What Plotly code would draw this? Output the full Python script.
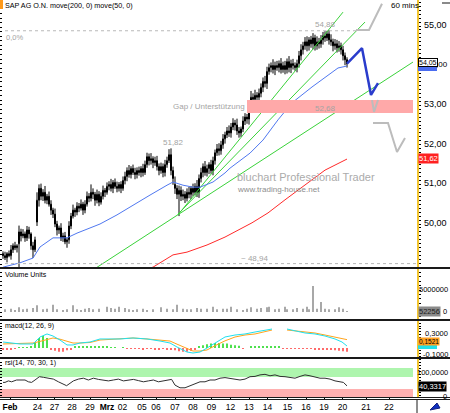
import plotly.graph_objects as go

W, H = 450, 413
FONT = "Liberation Sans, Arial, sans-serif"

# ---------------- price data (60-min bars) ----------------
closes = [
    49.20, 49.15, 49.25, 49.20, 49.35, 49.45, 49.40, 49.45, 49.80, 49.70,
    49.75, 49.65, 49.85, 49.75, 49.45, 49.35, 49.60, 50.60, 50.90, 50.70,
    50.80, 50.60, 50.70, 50.50, 50.35, 50.25, 50.00, 49.85, 49.90, 49.65,
    49.70, 49.55, 49.60, 49.95, 50.20, 50.35, 50.30, 50.45, 50.40, 50.50,
    50.35, 50.50, 50.70, 50.65, 50.80, 50.75, 50.60, 50.75, 50.55, 50.70,
    50.85, 50.80, 50.95, 51.00, 50.90, 51.05, 50.95, 50.90, 51.00, 50.90,
    51.10, 51.20, 51.35, 51.25, 51.40, 51.30, 51.25, 51.35, 51.30, 51.40,
    51.30, 51.50, 51.70, 51.60, 51.65, 51.55, 51.60, 51.45, 51.35, 51.45,
    51.30, 51.50, 51.60, 51.75, 51.35, 51.15, 50.90, 50.75, 50.85, 50.70,
    50.75, 50.65, 50.80, 50.75, 50.90, 50.80, 50.95, 50.80, 51.15, 51.30,
    51.45, 51.30, 51.40, 51.50, 51.35, 51.60, 51.80, 51.90, 51.85, 52.00,
    52.15, 52.25, 52.35, 52.30, 52.45, 52.55, 52.50, 52.35, 52.30, 52.40,
    52.60, 52.70, 52.65, 52.80, 53.20, 53.15, 53.25, 53.20, 53.30, 53.45,
    53.60, 53.55, 53.85, 53.95, 54.00, 53.90, 54.00, 53.95, 54.05, 53.90,
    54.00, 53.90, 54.10, 53.95, 54.05, 54.00, 53.95, 54.05, 54.25, 54.40,
    54.50, 54.60, 54.50, 54.65, 54.55, 54.70, 54.50, 54.60, 54.55, 54.65,
    54.75, 54.70, 54.80, 54.65, 54.60, 54.50, 54.55, 54.45, 54.50, 54.40,
    54.25, 54.15, 54.05,
]
first_open = 49.25
gap_opens = {8: 49.50, 17: 50.05, 86: 51.00, 124: 53.13}
# wick lengths above / below the body, in units of WICK_UNIT (EUR)
WICK_UNIT = 0.02
up_wick = [
    3, 5, 2, 4, 6, 3, 5, 2, 8, 4,   6, 3, 5, 4, 2, 5, 4, 10, 5, 6,
    4, 8, 3, 6, 5, 3, 7, 4, 3, 6,   4, 5, 3, 6, 4, 7, 3, 5, 4, 6,
    3, 5, 6, 4, 8, 5, 3, 6, 4, 5,   6, 3, 5, 4, 7, 3, 5, 6, 3, 4,
    5, 6, 4, 7, 3, 5, 6, 4, 5, 3,   6, 5, 5, 4, 7, 3, 5, 6, 4, 5,
    4, 6, 5, 7, 8, 5, 10, 4, 6, 5,  6, 4, 5, 7, 3, 6, 4, 8, 5, 6,
    4, 7, 5, 3, 6, 5, 4, 6, 7, 5,   6, 4, 5, 7, 5, 6, 4, 8, 5, 3,
    6, 5, 4, 5, 8, 5, 7, 4, 6, 5,   5, 7, 6, 5, 4, 8, 5, 6, 4, 7,
    5, 6, 4, 7, 5, 6, 4, 5, 6, 7,   5, 6, 7, 3, 5, 6, 4, 7, 5, 6,
    5, 6, 3, 5, 7, 4, 6, 5, 6, 4,   5, 4, 3,
]
down_wick = [
    4, 3, 6, 2, 5, 4, 3, 6, 5, 7,   3, 5, 4, 6, 5, 6, 3, 5, 8, 5,
    6, 4, 5, 3, 6, 5, 4, 7, 5, 4,   5, 3, 6, 5, 4, 3, 6, 4, 5, 3,
    6, 4, 3, 5, 4, 6, 7, 4, 5, 3,   4, 6, 3, 5, 4, 6, 3, 5, 4, 6,
    3, 5, 6, 4, 5, 3, 6, 5, 4, 6,   5, 3, 4, 6, 5, 7, 4, 5, 6, 4,
    6, 5, 4, 3, 6, 8, 7, 6, 5, 6,   5, 6, 4, 5, 6, 5, 4, 6, 7, 5,
    6, 4, 5, 7, 4, 6, 5, 4, 6, 5,   5, 6, 4, 5, 6, 4, 7, 5, 6, 5,
    4, 5, 6, 7, 1, 6, 4, 5, 6, 5,   6, 5, 7, 4, 6, 5, 7, 4, 6, 5,
    4, 6, 5, 6, 7, 5, 4, 6, 5, 6,   6, 5, 7, 6, 5, 7, 6, 5, 6, 5,
    6, 5, 4, 6, 5, 7, 5, 6, 5, 6,   6, 7, 5,
]
wick_highs = {12: 49.90, 18: 51.00, 44: 51.00, 72: 51.75, 83: 51.85, 153: 54.72, 162: 54.88}
wick_lows = {8: 48.90, 15: 49.14, 32: 49.40, 88: 50.20, 124: 53.10}

# moving averages (bar index, value)
ma50_x = [0, 8.5, 15, 18.5, 25, 32, 37, 48.5, 57, 65, 73.5, 82, 85, 90, 95, 98.5,
          105, 111, 113.5, 123.5, 130, 137.5, 144.5, 154.5, 161, 167.5, 172]
ma50_y = [48.91, 49.02, 49.14, 49.42, 49.65, 49.65, 49.77, 50.00, 50.23, 50.48, 50.73,
          50.98, 51.06, 50.98, 50.93, 50.93, 51.06, 51.29, 51.41, 51.79, 52.12, 52.63,
          53.06, 53.46, 53.71, 53.94, 53.99]
ma200_x = [73.5, 75, 85, 92, 102, 111, 124.5, 132.5, 141, 151, 161, 172]
ma200_y = [48.89, 48.91, 49.22, 49.29, 49.47, 49.67, 50.03, 50.28, 50.61, 50.98, 51.36, 51.64]

# trend lines (two points each)
trend_a_x, trend_a_y = [46.5, 205], [48.89, 54.09]
trend_b_x, trend_b_y = [87.5, 170], [50.23, 55.35]
trend_c_x, trend_c_y = [87.5, 181], [50.25, 55.10]

# projection and arrows (drawn marks in data space)
proj_x, proj_y = [172, 179.5, 184, 187.5], [54.05, 54.44, 53.26, 53.56]
arrow_up_x, arrow_up_y = [176.5, 183, 189.5], [54.90, 54.90, 55.56]
arrow_v_x, arrow_v_y = [184.5, 185.5, 187.5], [53.13, 52.83, 53.13]
arrow_dn_x, arrow_dn_y = [185, 192.5, 197, 201], [52.55, 52.55, 51.82, 52.17]

gap_low, gap_high = 52.80, 53.13
gap_x0, gap_x1 = 122, 205
high_level, high_x = 54.88, [1, 176.5]
low_level, low_x = 49.00, [1, 207]

# volume (bar index, shares)
vol_x = [1, 4, 6, 8, 10, 12, 15, 17, 20, 22, 25, 27, 30, 32, 35, 37, 39, 41, 43, 45,
         48, 52, 54, 56, 58, 61, 63, 65, 67, 70, 72, 75, 79, 82, 85, 87, 90, 92, 94, 97,
         99, 102, 105, 107, 110, 112, 114, 117, 120, 122, 124, 127, 129, 132, 133, 136,
         138, 141, 142, 145, 147, 150, 152, 153, 155, 157, 159, 161, 163, 166, 168, 170, 172]
vol_v = [600000, 760000, 450000, 1060000, 600000, 760000, 900000, 1520000, 600000, 760000,
         1670000, 600000, 450000, 600000, 1520000, 600000, 450000, 760000, 900000, 600000,
         760000, 1210000, 900000, 760000, 1210000, 900000, 600000, 450000, 600000, 760000,
         450000, 600000, 1060000, 760000, 600000, 1670000, 760000, 600000, 600000, 900000,
         760000, 760000, 1210000, 600000, 760000, 760000, 1210000, 600000, 450000, 760000,
         1060000, 760000, 900000, 1060000, 1210000, 600000, 760000, 1210000, 600000, 600000,
         900000, 760000, 1210000, 600000, 5900000, 760000, 2270000, 760000, 600000, 600000,
         1060000, 760000, 52256]

# MACD (bar index, macd, signal); None = not visible
macd_x = [0, 3.5, 8.5, 15, 18.5, 22, 25, 28.5, 32, 35, 38.5, 43.5, 48.5, 53.5, 58.5, 65,
          72, 78.5, 83.5, 87, 92, 95, 98.5, 102, 107, 111, 116, 121, 126, 131, 134.5, 138,
          142, 146, 151, 156, 161, 166, 169.5, 172]
macd_v = [0.109, 0.091, 0.073, 0.073, 0.200, 0.255, 0.218, 0.145, 0.055, 0.055, 0.091,
          0.109, 0.164, 0.164, 0.164, 0.182, 0.164, 0.127, 0.091, 0.018, -0.073, -0.091,
          -0.073, 0.000, 0.109, 0.200, 0.236, 0.255, 0.291, 0.327, 0.345, None,
          0.345, 0.309, 0.273, 0.255, 0.218, 0.164, 0.109, 0.036]
signal_v = [0.073, 0.080, 0.091, 0.091, 0.120, 0.160, 0.182, 0.160, 0.120, 0.091, 0.091,
            0.100, 0.145, 0.160, 0.164, 0.182, 0.164, 0.145, 0.127, 0.070, 0.000, -0.055,
            -0.055, -0.036, 0.060, 0.130, 0.200, 0.236, 0.255, 0.291, 0.327, None,
            0.327, 0.309, 0.291, 0.273, 0.236, 0.200, 0.164, 0.152]
hist_x = list(range(0, 173, 2))
hist_v = [-0.02, -0.02, -0.02, -0.01, 0.01, 0.01, 0.01, 0.02, 0.09, 0.18, 0.22, 0.18,
          -0.02, -0.05, -0.07, -0.07, -0.04, -0.02,
          0.02, 0.03, 0.03, 0.02, 0.02, 0.02, 0.02, 0.02, 0.02, 0.01,
          0.01, 0.0, 0.01, -0.01, -0.01,
          -0.01, -0.01, -0.02, -0.01, -0.01, -0.02, -0.02, -0.01, -0.02, -0.02,
          -0.04, -0.06, -0.07, -0.07, -0.05, -0.03,
          0.03, 0.05, 0.07, 0.08, 0.09, 0.09, 0.08,
          0.08, 0.06, 0.05, 0.04, -0.01, 0.0,
          0.02, 0.02, 0.02, 0.02, 0.02, 0.02, 0.02, 0.02,
          -0.01, -0.01, -0.01, -0.01, -0.01, -0.01, -0.015, -0.015, -0.02, -0.02,
          -0.025, -0.03, -0.03, -0.04, -0.05, -0.06, -0.07]

# RSI (bar index, value)
rsi_x = [0, 1, 2.7, 4.3, 6.8, 8.5, 11, 12.7, 14.3, 16, 18.2, 20.2, 22.7, 25.2, 27.7, 30.2,
         31.8, 33.5, 35.2, 37.7, 40.2, 42.7, 45.2, 47.7, 50.2, 52.7, 55.2, 57.7, 60.2, 62.7,
         65.2, 67.7, 70.2, 72.7, 75.2, 77.7, 80.2, 82.7, 84.3, 86, 88.5, 91, 93.5, 96, 98.5,
         101, 103.5, 106, 108.5, 111, 113.5, 116, 118.5, 121, 123.5, 126, 128.5, 131, 133.5,
         136, 138.5, 141, 143.5, 146, 148.5, 151, 153.5, 156, 158.5, 161, 163.5, 166, 168.5,
         170.2, 172]
rsi_v = [52, 52, 57, 54, 60, 61, 60, 54, 52, 60, 71, 69, 66, 63, 54, 46,
         41, 49, 57, 63, 66, 60, 66, 62, 60, 57, 60, 63, 57, 60,
         62, 58, 54, 57, 60, 54, 57, 60, 62, 43, 34, 34, 41, 46, 54,
         54, 60, 60, 66, 68, 66, 63, 60, 63, 71, 72, 77, 79, 74,
         77, 72, 71, 69, 66, 72, 77, 74, 71, 66, 66, 63, 57, 54,
         52, 40.33]
rsi_upper, rsi_lower = 70, 30

# x-axis day labels (bar index of each session start)
day_pos = [3.5, 17.25, 25.75, 34.5, 43.5, 52, 59.75, 69.5, 76.5, 86, 95, 104.25,
           113.75, 123, 132.25, 142.25, 151.5, 160.5, 169.75, 181.5, 193]
day_text = ["<b>Feb</b>", "24", "27", "28", "29", "<b>Mrz</b>", "02", "05", "06", "07", "08",
            "09", "12", "13", "14", "15", "16", "19", "20", "21", "22"]

price_ticks = [55, 54, 53, 52, 51, 50]

# ---------------- derived OHLC ----------------
opens = [first_open] + closes[:-1]
for k, v in gap_opens.items():
    opens[k] = v
highs = [max(o, c) + u * WICK_UNIT for o, c, u in zip(opens, closes, up_wick)]
lows = [min(o, c) - d * WICK_UNIT for o, c, d in zip(opens, closes, down_wick)]
for k, v in wick_highs.items():
    highs[k] = max(highs[k], v)
for k, v in wick_lows.items():
    lows[k] = min(lows[k], v)
bars = list(range(len(closes)))


def X(px):
    return px / W


def Y(py):
    return 1 - py / H


XR = 417 / W
XRANGE = [-1.5, 207]
YELLOW = "#f3c530"

fig = go.Figure()

# trend lines
for tx, ty in [(trend_a_x, trend_a_y), (trend_b_x, trend_b_y), (trend_c_x, trend_c_y)]:
    fig.add_trace(go.Scatter(x=tx, y=ty, mode="lines", line=dict(color="#3ad23a", width=1),
                             xaxis="x", yaxis="y", hoverinfo="skip"))
fig.add_trace(go.Scatter(x=ma200_x, y=ma200_y, mode="lines", line=dict(color="#ff2a2a", width=1),
                         xaxis="x", yaxis="y"))
fig.add_trace(go.Scatter(x=ma50_x, y=ma50_y, mode="lines", line=dict(color="#5078f0", width=1),
                         xaxis="x", yaxis="y"))
fig.add_trace(go.Scatter(x=high_x, y=[high_level, high_level], mode="lines",
                         line=dict(color="#b8b8b8", width=1, dash="dot"), xaxis="x", yaxis="y"))
fig.add_trace(go.Scatter(x=low_x, y=[low_level, low_level], mode="lines",
                         line=dict(color="#b8b8b8", width=1, dash="dot"), xaxis="x", yaxis="y"))
# gap band
fig.add_trace(go.Scatter(x=[gap_x0, gap_x1, gap_x1, gap_x0, gap_x0],
                         y=[gap_low, gap_low, gap_high, gap_high, gap_low],
                         mode="lines", fill="toself", fillcolor="#ffa9a9",
                         line=dict(width=0, color="#ffa9a9"), xaxis="x", yaxis="y"))
# candles
fig.add_trace(go.Candlestick(
    x=bars, open=opens, high=highs, low=lows, close=closes,
    increasing=dict(line=dict(color="#000000", width=1), fillcolor="#d8d8d8"),
    decreasing=dict(line=dict(color="#000000", width=1), fillcolor="#000000"),
    whiskerwidth=0, xaxis="x", yaxis="y"))
# projection + arrows
fig.add_trace(go.Scatter(x=proj_x, y=proj_y, mode="lines", line=dict(color="#2a3ccc", width=2.5),
                         xaxis="x", yaxis="y"))
for ax_, ay_ in [(arrow_up_x, arrow_up_y), (arrow_v_x, arrow_v_y), (arrow_dn_x, arrow_dn_y)]:
    fig.add_trace(go.Scatter(x=ax_, y=ay_, mode="lines", line=dict(color="#bcbcbc", width=2),
                             xaxis="x", yaxis="y"))

# volume
fig.add_trace(go.Bar(x=vol_x, y=vol_v, width=0.5, marker=dict(color="#a8a8a8", line=dict(width=0)),
                     xaxis="x2", yaxis="y2"))
# macd
fig.add_trace(go.Bar(x=hist_x, y=hist_v, width=1.0,
                     marker=dict(color=["#4ee04e" if v >= 0 else "#ff6a6a" for v in hist_v],
                                 line=dict(width=0)),
                     xaxis="x3", yaxis="y3"))
fig.add_trace(go.Scatter(x=macd_x, y=signal_v, mode="lines", line=dict(color="#ffa41c", width=1),
                         xaxis="x3", yaxis="y3", connectgaps=False))
fig.add_trace(go.Scatter(x=macd_x, y=macd_v, mode="lines", line=dict(color="#20e0ee", width=1),
                         xaxis="x3", yaxis="y3", connectgaps=False))
# rsi
fig.add_trace(go.Scatter(x=rsi_x, y=rsi_v, mode="lines", line=dict(color="#303030", width=1),
                         xaxis="x4", yaxis="y4"))
# dummy traces for left tick axes
for ya, xa in [("y5", "x"), ("y6", "x2"), ("y7", "x3"), ("y8", "x4")]:
    fig.add_trace(go.Scatter(x=[None], y=[None], xaxis=xa, yaxis=ya, mode="lines"))

domains = {
    1: [Y(267), Y(0)],
    2: [Y(319), Y(269)],
    3: [Y(357), Y(321)],
    4: [Y(397), Y(359)],
}
ranges = {
    1: [55 - (267 - 26) / 39.6, 55 + 26 / 39.6],
    2: [(312 - 319) / 4.4 * 1e6, (312 - 269) / 4.4 * 1e6],
    3: [(348 - 357) / 55, (348 - 321) / 55],
    4: [(398 - 397) / 0.3, (398 - 359) / 0.3],
}
dticks = {1: 0.1, 2: 1e6, 3: 0.05, 4: 10}

layout = dict(
    width=W, height=H, margin=dict(l=0, r=0, t=0, b=0),
    paper_bgcolor="white", plot_bgcolor="white", showlegend=False,
    font=dict(family=FONT, size=8, color="#000"),
    hovermode=False,
)
for k in range(1, 5):
    xn = "xaxis" if k == 1 else f"xaxis{k}"
    yn = "yaxis" if k == 1 else f"yaxis{k}"
    xa = dict(domain=[0, XR], range=XRANGE, anchor="y" if k == 1 else f"y{k}",
              showgrid=False, zeroline=False, showline=False, showticklabels=False, ticks="")
    if k > 1:
        xa["matches"] = "x"
    if k == 1:
        xa["rangeslider"] = dict(visible=False)
    if k == 4:
        xa.update(showticklabels=True, tickvals=day_pos, ticktext=day_text, ticks="outside",
                  ticklen=2, tickcolor="#000", tickfont=dict(size=8.5, color="#000", family=FONT))
    layout[xn] = xa
    layout[yn] = dict(domain=domains[k], range=ranges[k], side="right",
                      anchor="x" if k == 1 else f"x{k}",
                      showline=True, linecolor=YELLOW, linewidth=1.5, showgrid=False, zeroline=False,
                      ticks="outside", ticklen=2, tickcolor="#000", dtick=dticks[k], tick0=0,
                      showticklabels=False)
    # left tick overlay
    layout[f"yaxis{k + 4}"] = dict(overlaying="y" if k == 1 else f"y{k}", side="left",
                                   anchor="x" if k == 1 else f"x{k}",
                                   range=ranges[k], showline=False, showgrid=False, zeroline=False,
                                   ticks="inside", ticklen=2, tickcolor="#000",
                                   dtick=dticks[k] * (1.15 if k == 1 else 1), tick0=0,
                                   showticklabels=False)
fig.update_layout(**layout)

shapes = []
# RSI bands
shapes.append(dict(type="rect", xref="x4", yref="y4", x0=XRANGE[0], x1=205, y0=rsi_upper, y1=100,
                   fillcolor="#aef5ae", line=dict(width=0), layer="below"))
shapes.append(dict(type="rect", xref="x4", yref="y4", x0=XRANGE[0], x1=205, y0=0, y1=rsi_lower,
                   fillcolor="#ffb0b0", line=dict(width=0), layer="below"))
# panel separators
for py, lw in [(268, 2), (320, 2), (358, 2), (397.5, 1), (399.5, 1)]:
    shapes.append(dict(type="line", xref="paper", yref="paper", x0=0, x1=1, y0=Y(py), y1=Y(py),
                       line=dict(color="#1a1a1a", width=lw)))
# bottom-right box
shapes.append(dict(type="line", xref="paper", yref="paper", x0=X(417), x1=X(417), y0=Y(400), y1=Y(413),
                   line=dict(color="#1a1a1a", width=1)))
shapes.append(dict(type="path", xref="paper", yref="paper",
                   path=f"M {X(430)},{Y(410)} L {X(437)},{Y(403)} L {X(440)},{Y(408)} Z",
                   fillcolor="#1030c0", line=dict(color="#102080", width=1)))
# top-left orange marker, top-right grey dash
shapes.append(dict(type="rect", xref="paper", yref="paper", x0=0, x1=X(3), y0=Y(9), y1=Y(0),
                   fillcolor="#ff9a1a", line=dict(width=0)))
shapes.append(dict(type="line", xref="paper", yref="paper", x0=X(442), x1=1, y0=Y(3), y1=Y(3),
                   line=dict(color="#8a8a8a", width=2)))
# small secondary badges (MA50 value under price badge, macd value under signal badge)
shapes.append(dict(type="rect", xref="paper", yref="paper", x0=X(418), x1=X(437), y0=Y(71), y1=Y(66.5),
                   fillcolor="#4a6cf0", line=dict(width=0)))
shapes.append(dict(type="rect", xref="paper", yref="paper", x0=X(418), x1=X(437), y0=Y(349), y1=Y(345),
                   fillcolor="#22e0e8", line=dict(width=0)))
fig.update_layout(shapes=shapes)

ann = []


def text(s, px, py, size=7.5, color="#000", xanchor="left", **kw):
    ann.append(dict(text=s, x=X(px), y=Y(py), xref="paper", yref="paper", showarrow=False,
                    xanchor=xanchor, yanchor="middle", font=dict(size=size, color=color, family=FONT),
                    borderpad=0, **kw))


GREY = "#a4a4a4"
text("SAP AG O.N. move(200, 0) move(50, 0)", 4, 5, size=7.2)
text("60 mins", 390, 5, size=8)
text("0,0%", 5, 38, size=7.5, color=GREY)
text("54,88", 325, 25, size=8, color=GREY, xanchor="center")
text("51,82", 173, 142, size=8, color=GREY, xanchor="center")
text("Gap / Unterstützung", 246, 106, size=8, color=GREY, xanchor="right")
text("52,68", 325, 108, size=8, color=GREY, xanchor="center")
text("bluchart Professional Trader", 236, 177, size=11, color="#ababab")
text("www.trading-house.net", 236, 189, size=8, color="#8e8e8e")
text("~ 48,94", 240, 258, size=8, color=GREY)
text("Volume Units", 4, 274, size=7)
text("macd(12, 26, 9)", 4, 326, size=7)
text("rsi(14, 70, 30, 1)", 4, 363, size=7)

# right axis labels
for v in price_ticks:
    py = 26 + (55 - v) * 39.6 - 1
    if v == 54:
        # mostly covered by the last-price badge in the reference; only the tail shows
        text(",00", 449, py, size=8, xanchor="right")
        continue
    text(f"{v:.2f}".replace(".", ","), 448, py, size=9, xanchor="right")
text("5000000", 449, 289, size=7.5, xanchor="right")
text("0", 448, 311, size=7.5, xanchor="right")
text("0,3000", 449, 333, size=7.5, xanchor="right")
text("-0,1000", 449, 354, size=7.5, xanchor="right")
text("100,0000", 449, 372, size=7.5, xanchor="right")
text("0", 448, 396, size=7.5, xanchor="right")

# value badges
text("54,05", 418, 62, size=7, bgcolor="#ffffff", bordercolor="#000", borderwidth=1)
text("51,62", 418, 158, size=7.5, color="#ffffff", bgcolor="#ff2020")
text("52256", 418, 311, size=7.5, color="#202020", bgcolor="#8a8a8a")
text("0,1521", 418, 341.5, size=6.5, color="#000", bgcolor="#ffa020")
text("40,3317", 418, 386, size=7.5, color="#ffffff", bgcolor="#000000")
fig.update_layout(annotations=ann)

fig.write_html("out.html")
